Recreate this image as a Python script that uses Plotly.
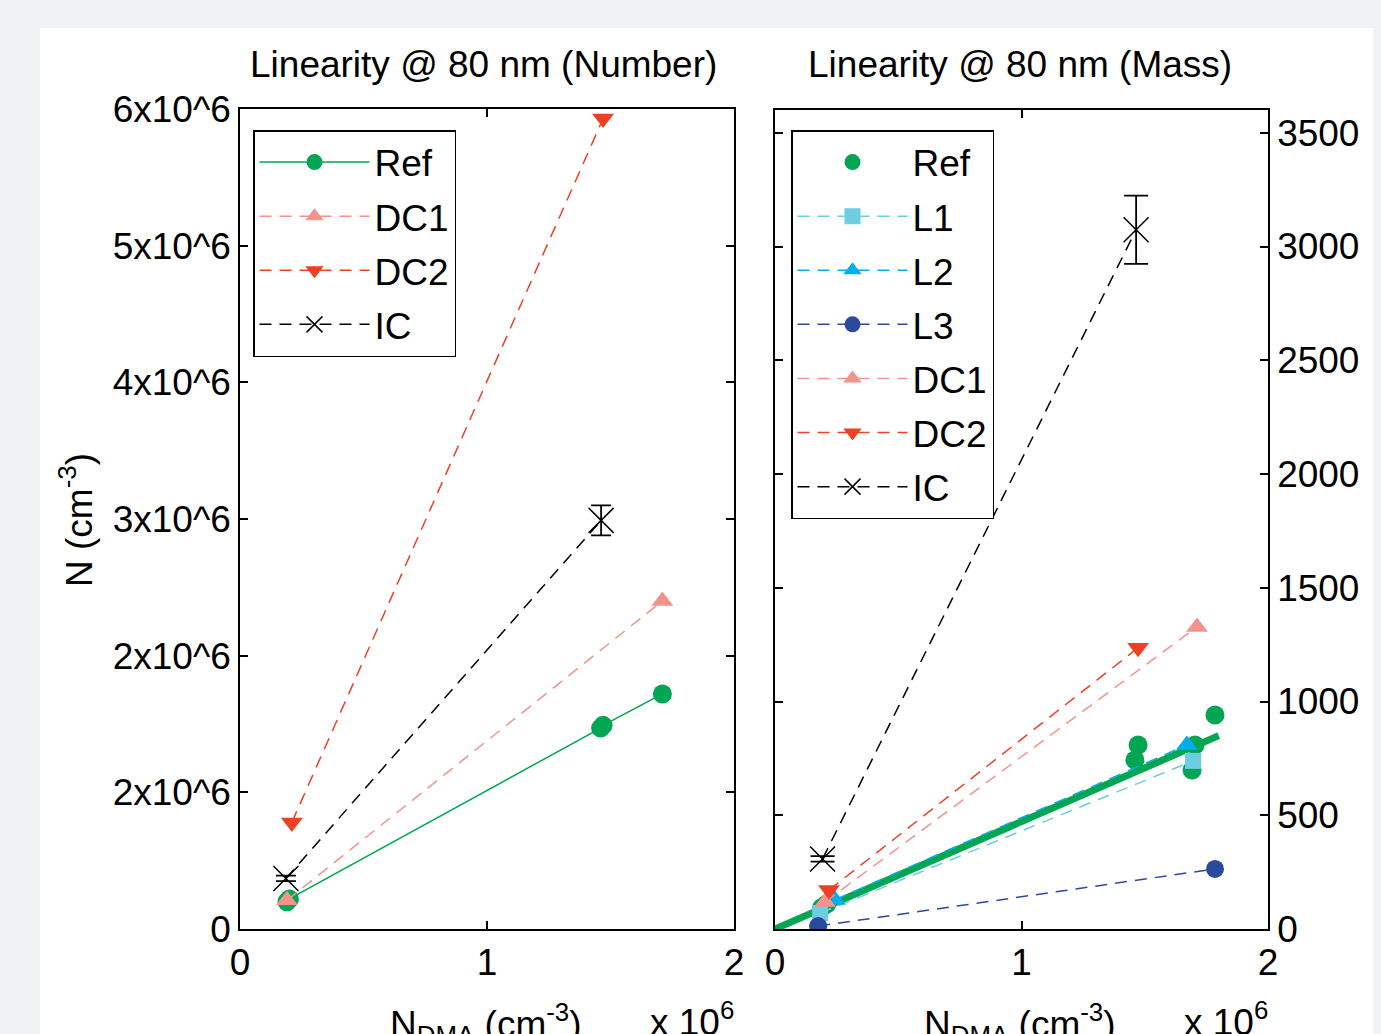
import plotly.graph_objects as go

W, H = 1381, 1034
OFF = 8  # default page margin around the figure


def px(x):
    return (x - OFF) / W


def py(y):
    return 1 - (y - OFF) / H


# ---------------- data (x in units of 10^6 cm^-3) ----------------
# Left panel: number concentration (y in units of 10^6 cm^-3)
num_ref_x = [0.19, 0.20, 1.46, 1.47, 1.71]
num_ref_y = [0.20, 0.22, 1.47, 1.49, 1.72]
num_dc1_x = [0.19, 1.71]
num_dc1_y = [0.21, 2.40]
num_dc2_x = [0.21, 1.47]
num_dc2_y = [0.78, 5.93]
num_ic_x = [0.186, 1.462]
num_ic_y = [0.37, 2.99]
num_ic_err = [0.02, 0.11]

# Right panel: mass concentration
mass_ref_x = [0.19, 0.21, 1.460, 1.473, 1.692, 1.704, 1.785]
mass_ref_y = [95, 110, 743, 809, 699, 809, 941]
mass_fit_x = [0.0, 1.80]
mass_fit_y = [0.0, 850]
mass_l1_x = [0.183, 1.696]
mass_l1_y = [70, 739]
mass_l2_x = [0.243, 1.671]
mass_l2_y = [128, 809]
mass_l3_x = [0.175, 1.785]
mass_l3_y = [13, 264]
mass_dc1_x = [0.203, 1.712]
mass_dc1_y = [119, 1328]
mass_dc2_x = [0.219, 1.473]
mass_dc2_y = [171, 1236]
mass_ic_x = [0.193, 1.465]
mass_ic_y = [308, 3074]
mass_ic_err = [12, 150]

x_ticks = [0, 1, 2]
x_ticktext = ["0", "1", "2"]
num_yticks = [0, 1, 2, 3, 4, 5, 6]
num_yticktext = ["0", "2x10^6", "2x10^6", "3x10^6", "4x10^6", "5x10^6", "6x10^6"]
mass_yticks = [0, 500, 1000, 1500, 2000, 2500, 3000, 3500]

# ---------------- styles ----------------
C_REF = "#00a651"
C_DC1 = "#f4928c"
C_DC2 = "#ee4123"
C_IC = "#000000"
C_L1 = "#6dcde1"
C_L2 = "#00aeef"
C_L3 = "#2b4a9e"
BG = "#f1f2f4"
FONT = "Liberation Sans, Arial, sans-serif"
FS = 37
DASH = "12px,8px"

fig = go.Figure()


def add(x, y, name, color, symbol, msize, xa, ya, leg, mode="lines+markers",
        dash=DASH, err=None, errw=10):
    kw = {}
    if err is not None:
        kw["error_y"] = dict(type="data", array=err, color=C_IC, thickness=1.8, width=errw)
    mk = dict(symbol=symbol, size=msize, color=color)
    if symbol == "x-thin":
        mk["line"] = dict(color=color, width=1.5)
    fig.add_trace(go.Scatter(x=x, y=y, name=name, mode=mode,
                             line=dict(color=color, width=1.5, dash=dash),
                             marker=mk, xaxis=xa, yaxis=ya, legend=leg,
                             legendgroup=leg + name, **kw))


# ---- left panel ----
add(num_ref_x, num_ref_y, "Ref", C_REF, "circle", 19, "x", "y", "legend", dash="solid")
add(num_dc1_x, num_dc1_y, "DC1", C_DC1, "triangle-up", 19, "x", "y", "legend")
add(num_dc2_x, num_dc2_y, "DC2", C_DC2, "triangle-down", 19, "x", "y", "legend")
add(num_ic_x, num_ic_y, "IC", C_IC, "x-thin", 25, "x", "y", "legend", err=num_ic_err)

# ---- right panel ----
fig.add_trace(go.Scatter(x=mass_fit_x, y=mass_fit_y, mode="lines", showlegend=False,
                         line=dict(color=C_REF, width=7), hoverinfo="skip",
                         xaxis="x2", yaxis="y2"))
add(mass_ref_x, mass_ref_y, "Ref", C_REF, "circle", 19, "x2", "y2", "legend2", mode="markers")
add(mass_l1_x, mass_l1_y, "L1", C_L1, "square", 16, "x2", "y2", "legend2")
add(mass_l2_x, mass_l2_y, "L2", C_L2, "triangle-up", 19, "x2", "y2", "legend2")
add(mass_l3_x, mass_l3_y, "L3", C_L3, "circle", 18, "x2", "y2", "legend2")
add(mass_dc1_x, mass_dc1_y, "DC1", C_DC1, "triangle-up", 19, "x2", "y2", "legend2")
add(mass_dc2_x, mass_dc2_y, "DC2", C_DC2, "triangle-down", 19, "x2", "y2", "legend2")
add(mass_ic_x, mass_ic_y, "IC", C_IC, "x-thin", 25, "x2", "y2", "legend2",
    err=mass_ic_err, errw=12)

axis_common = dict(showline=True, linecolor="black", linewidth=1.5, mirror="ticks",
                   ticks="inside", ticklen=8, tickwidth=1.5, tickcolor="black",
                   showgrid=False, zeroline=False,
                   tickfont=dict(family=FONT, size=FS, color="black"))

legend_common = dict(bgcolor="white", bordercolor="black", borderwidth=1.5,
                     font=dict(family=FONT, size=FS, color="black"),
                     xanchor="left", yanchor="top", itemwidth=110,
                     tracegroupgap=3, itemclick=False, itemdoubleclick=False)

fig.update_layout(
    width=W, height=H,
    margin=dict(l=0, r=0, t=0, b=0, autoexpand=False),
    paper_bgcolor=BG, plot_bgcolor="white",
    font=dict(family=FONT, size=FS, color="black"),
    xaxis=dict(domain=[px(240), px(734)], range=[0, 2], tickvals=x_ticks,
               ticktext=x_ticktext, anchor="y", **axis_common),
    yaxis=dict(domain=[py(929), py(109)], range=[0, 6], tickvals=num_yticks,
               ticktext=num_yticktext, anchor="x", **axis_common),
    xaxis2=dict(domain=[px(775), px(1268)], range=[0, 2], tickvals=x_ticks,
                ticktext=x_ticktext, anchor="y2", **axis_common),
    yaxis2=dict(domain=[py(929), py(110)], range=[0, 3600], tickvals=mass_yticks,
                anchor="x2", side="right", **axis_common),
    legend=dict(x=px(253), y=py(130), **legend_common),
    legend2=dict(x=px(791), y=py(130), **legend_common),
    showlegend=True,
)

# white figure area (the page region that the chart occupies)
fig.add_shape(type="rect", xref="paper", yref="paper", layer="below",
              x0=px(40), x1=1.02, y0=-0.02, y1=py(28),
              fillcolor="white", line=dict(width=0))

ann_font = dict(family=FONT, size=FS, color="black")
annotations = [
    dict(text="Linearity @ 80 nm (Number)", x=px(483), y=py(65)),
    dict(text="Linearity @ 80 nm (Mass)", x=px(1020), y=py(65)),
    dict(text="N (cm<sup>-3</sup>)", x=px(77), y=py(520), textangle=-90),
    dict(text="N<sub>DMA</sub> (cm<sup>-3</sup>)", x=px(486), y=py(996), yanchor="top"),
    dict(text="N<sub>DMA</sub> (cm<sup>-3</sup>)", x=px(1020), y=py(996), yanchor="top"),
    dict(text="x 10<sup>6</sup>", x=px(736), y=py(994), xanchor="right", yanchor="top"),
    dict(text="x 10<sup>6</sup>", x=px(1270), y=py(994), xanchor="right", yanchor="top"),
]
for a in annotations:
    a.setdefault("xanchor", "center")
    a.setdefault("yanchor", "middle")
    fig.add_annotation(xref="paper", yref="paper", showarrow=False, font=ann_font, **a)

fig.write_html("out.html", post_script="document.body.style.background='%s';" % BG)
